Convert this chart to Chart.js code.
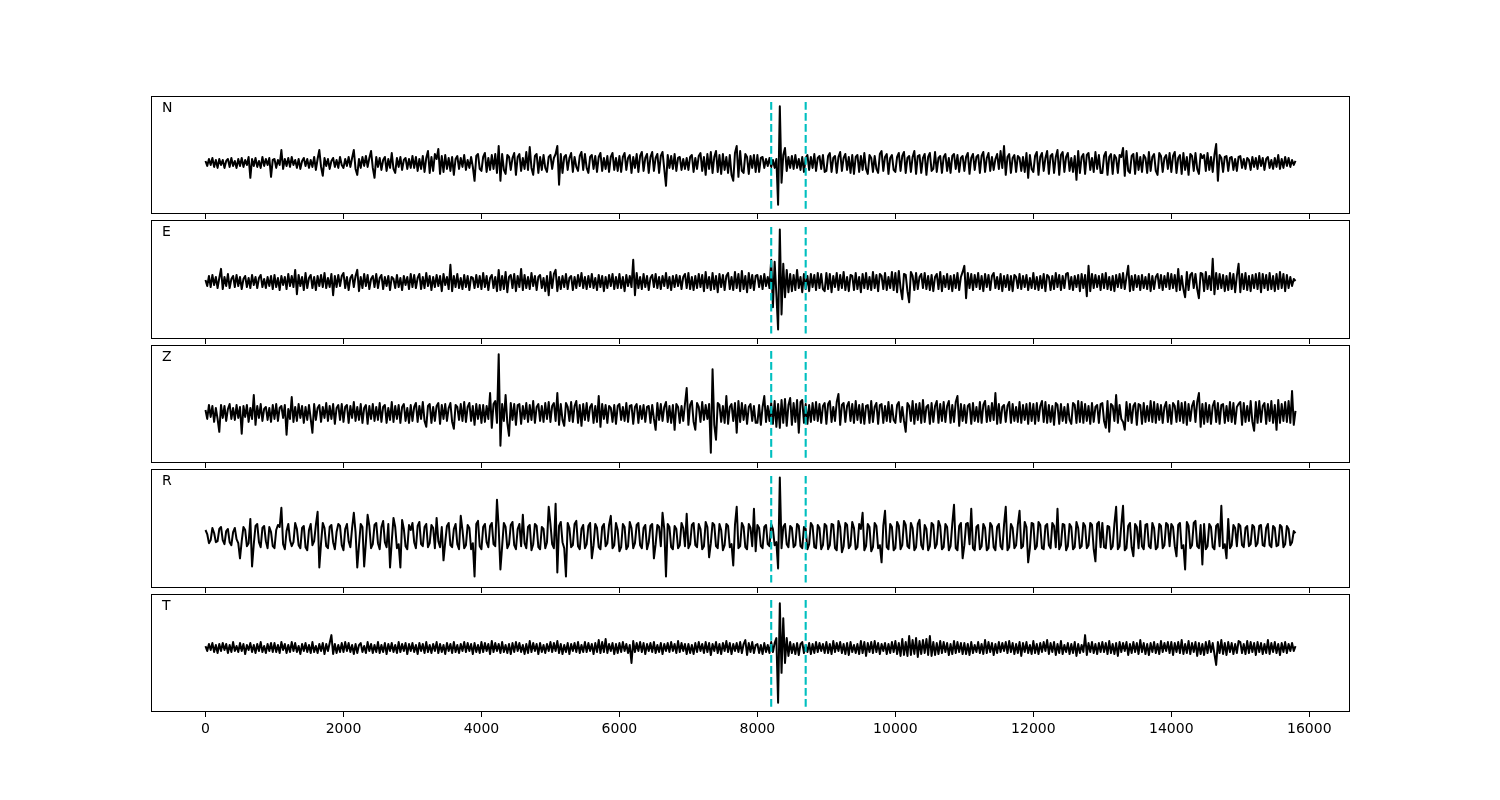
<!DOCTYPE html>
<html>
<head>
<meta charset="utf-8">
<script src="https://cdn.jsdelivr.net/npm/chart.js@4/dist/chart.umd.min.js"></script>
<style>
  body { margin: 0; background: #fff; }
  #wrap { position: relative; width: 1500px; height: 800px; }
  #wrap canvas { position: absolute; left: 0; top: 0; }
</style>
</head>
<body>
<div id="wrap">
  <canvas id="c0" width="1500" height="800"></canvas>
  <canvas id="c1" width="1500" height="800"></canvas>
  <canvas id="c2" width="1500" height="800"></canvas>
  <canvas id="c3" width="1500" height="800"></canvas>
  <canvas id="c4" width="1500" height="800"></canvas>
</div>
<script>
// sample spacing of the traces (x units)
const step = 25;
const xTicks = [0, 2000, 4000, 6000, 8000, 10000, 12000, 14000, 16000];
const channels = ['N', 'E', 'Z', 'R', 'T'];
const pickTimes = [8200, 8700];

// amplitudes, one row per 1000 samples
const traceN = [
  2,-3,4,-2,5,-4,3,-5,4,-2, 3,-5,2,4,-4,5,-3,2,-5,4, -3,5,-4,3,-2,6,-15,4,-3,5, -4,2,-5,6,-3,4,-2,5,-14,3,
  4,-5,3,-2,13,-6,4,-3,5,-4, 6,-2,3,-5,4,-6,2,5,-3,4, -5,3,-4,6,-7,4,13,-4,-13,5, -3,4,-6,2,5,-4,3,-5,6,-2,
  -5,4,-3,6,-4,5,13,-6,-12,4, -5,6,-3,7,-4,5,12,-5,-15,6, -4,5,-7,3,6,-8,4,-5,10,-6, -10,5,-4,6,-7,3,5,-6,4,-5,
  7,-5,6,-8,4,-6,7,-9,5,12, -10,6,-8,9,4,14,-11,7,-9,8, -6,5,-8,6,-12,4,7,-6,5,-4, 8,-7,3,-5,6,-4,-18,7,9,-6,
  -8,6,10,-9,5,-7,8,-6,9,-10, 17,-18,9,-7,-11,8,6,-7,5,10, -12,6,9,-8,5,-6,11,-7,16,-5, -12,7,9,-10,6,-7,8,-5,-9,6,
  8,-6,5,9,17,-22,9,-10,6,8, -7,5,10,-9,6,-4,-8,7,11,-7, 9,-5,-10,6,8,-6,7,-9,6,10, -8,5,-6,7,-9,6,10,-7,5,-8,
  7,-9,6,10,-7,5,8,-10,6,-5, 9,-9,7,11,-8,5,9,-10,6,11, -8,5,9,-10,7,11,-6,-23,8,-5, 7,-6,9,-8,5,6,-7,4,-6,5,
  -7,6,8,-9,5,-6,7,10,-8,6, -12,9,-6,11,-10,6,12,-9,8,-11, 9,-7,6,-10,8,-12,-18,10,17,-14, 12,-8,-10,9,6,-11,7,-5,8,-9,
  8,-9,5,6,-5,4,-3,5,-4,3, -5,4,-42,57,-20,8,15,-8,6,-5, 7,-6,8,-5,4,-7,6,-9,5,8, -7,6,-5,9,-8,5,7,-6,8,-9,
  -8,7,10,-9,5,7,-10,6,11,-8, 5,9,-7,6,-10,8,-11,6,8,-9, 7,-7,10,-6,-11,8,5,-9,7,-6, -10,9,12,-8,6,9,-11,5,8,-7,
  -9,6,10,-8,7,11,-10,5,7,-9, 6,12,-11,7,8,-10,5,9,-12,6, 10,-8,-6,11,-9,5,7,-10,6,9, -8,5,-10,7,9,-6,8,-9,5,7,
  -8,6,10,-11,5,9,-7,6,8,-10, 7,11,-9,5,10,-8,6,-7,4,9, -6,12,-5,17,-12,6,9,-10,5,8, -9,7,5,-8,6,-9,10,-15,8,-6,
  -9,7,11,-12,6,10,-8,5,12,-11, 7,9,-10,6,13,-12,8,11,-9,6, 10,-8,5,-9,7,-17,12,-10,6,9, -11,8,10,-7,5,-9,11,-6,8,-10,
  -10,7,11,-12,6,9,-11,8,5,-10, 8,6,15,-13,12,-8,-10,7,9,-11, 10,-7,6,-9,8,5,-10,11,-8,6, 9,-8,-12,10,7,-9,5,8,-6,10,
  -9,7,11,-10,5,8,-11,10,-7,6, -12,9,7,-8,10,-6,-11,9,5,8, -8,10,-7,6,-9,8,19,-18,8,5, -9,6,7,-8,5,6,-7,4,-8,6,
  7,-5,4,-6,5,3,-7,6,-4,5, -6,7,-3,5,-7,4,6,-5,3,-6, 5,-4,8,-6,4,-5,6,-3,5,-4, 3,-2,2
];
const traceE = [
  2,-4,6,-5,7,-3,5,-6,4,13, -7,5,-4,8,-6,3,6,-5,7,-4, 5,-7,3,6,-5,4,-6,7,-3,5, -6,4,7,-5,3,-6,5,-4,6,-7,
  7,-5,4,-8,6,-3,5,-7,8,-4, 6,-5,12,-12,7,-4,5,-8,9,-6, 4,7,-6,5,-8,6,-4,7,-5,9, -6,4,-5,8,-13,6,-5,7,-4,6,
  9,-6,5,-8,4,7,-5,6,12,-9, 5,-6,8,-4,7,-7,3,6,-5,8, -6,4,7,-7,5,-4,6,-8,5,3, -6,7,-5,4,-8,6,-3,5,-7,8,
  -5,7,-6,4,8,-7,5,-6,9,-4, 6,-8,5,-5,7,-4,6,-9,8,-3, 5,-7,17,-9,6,-5,8,-6,4,-7, 7,-5,6,-8,5,4,-6,7,-5,6,
  -7,9,-5,6,-8,4,7,-6,5,-9, 12,-8,6,-7,10,-10,5,7,-6,8, -9,6,-5,13,-8,7,-6,5,-7,9, -4,6,-8,5,7,-6,4,-9,6,-13,
  10,-6,8,12,-9,5,-7,6,-5,8, -7,4,6,-8,5,-6,7,-4,9,-6, 5,-7,6,-5,8,-6,4,-8,7,-5, 6,-9,5,-6,7,-4,8,-7,5,-6,
  8,-6,5,-9,7,-4,6,-5,22,-13, 9,-6,5,-7,8,-5,6,-8,4,7, -5,8,-6,5,-7,6,-4,9,-6,5, -8,6,-5,7,-4,6,-7,5,8,-6,
  9,-7,5,-8,6,-6,8,-5,7,-9, 10,-6,5,-8,9,-7,6,-10,8,-5, 7,-8,6,9,-7,5,-8,10,-6,8, -9,11,-7,6,-10,9,-6,7,-8,6,
  7,-5,6,-7,8,-4,5,-6,22,-25, 20,-12,-47,52,-32,18,-15,12,-10,8, -9,7,-8,12,-6,5,-10,8,-7,6, -9,8,-5,7,-8,9,-6,8,-7,-9,
  9,-7,8,-10,6,-5,9,-8,7,-6, 10,-8,5,-9,7,6,-8,9,-7,5, -10,8,-6,9,-7,5,-8,10,-6,7, -9,8,6,-7,9,-8,5,-6,10,-8,
  9,-10,11,-6,-17,8,7,-9,-20,10, 6,-8,9,-7,5,8,-6,9,-7,6, -8,7,-9,5,8,-7,10,-9,6,-5, 8,-7,6,-9,7,-6,9,-8,5,10,
  16,-16,9,-6,8,-8,7,-5,9,-7, 6,-9,8,-5,7,-8,6,9,-6,5, -7,8,-9,6,-5,7,-8,6,-9,7, 5,-6,8,-7,6,-5,7,-8,4,-6,
  9,-7,5,-8,6,-6,8,-9,7,5, -8,6,-7,9,-5,7,-8,6,-6,8, 9,-7,5,-8,6,-5,7,-9,8,-6, 7,-14,16,-9,8,-6,7,-5,6,-8,
  8,-6,9,-7,5,-8,6,-9,7,-5, 8,-6,9,-7,5,16,-9,6,-8,7, -5,6,-8,7,-6,5,-7,8,-9,6, -7,5,8,-6,7,-8,6,-5,9,-7,
  8,-6,7,-9,13,-8,6,-7,-15,10, -8,7,9,-6,8,-7,-16,9,8,-9, 10,-7,6,-8,23,-12,9,-7,8,-6, 7,-9,6,-8,9,-7,8,-10,6,18,
  -10,8,-7,9,-8,6,-9,7,-6,8, -7,9,-10,8,-6,7,-8,9,-7,6, -9,8,-7,10,-6,8,-9,7,-6,5, -4,3,1
];
const traceZ = [
  3,-6,8,-4,7,-9,5,-6,-19,8, -5,7,-8,4,9,-6,5,-7,8,-5, 6,-21,7,-4,8,-9,5,-6,18,-12, 7,-5,9,-8,4,6,-7,5,-9,8,
  -6,9,-8,5,7,-5,8,-22,4,-6, 16,-9,6,-8,9,-5,7,-10,6,-7, 8,-6,-20,9,-7,5,8,-9,6,-5, 10,-8,7,-6,9,-11,5,8,-7,9,
  -9,6,8,-10,7,-5,11,-8,6,-7, 9,-10,5,8,-11,7,-6,9,-8,6, -7,10,-9,6,8,-10,5,-7,11,-9, 7,-6,8,-10,6,9,-8,5,-10,8,
  -8,6,10,-9,7,-6,11,-8,-14,7, 9,-10,6,-8,7,10,-11,8,-6,9, -8,5,10,-9,-16,8,6,-7,9,-8, 11,-9,6,10,-8,7,-12,9,-6,8,
  -10,8,-9,7,-6,20,-15,9,12,-10, 59,-33,9,-8,18,-10,-23,10,-7,9, -12,8,9,-11,7,-6,10,-9,8,-7, 12,-10,6,9,-8,7,-9,10,-6,11,
  -9,7,10,-8,20,-12,9,-7,-13,10, 6,-8,11,-9,7,12,-10,8,-13,9, -7,10,-8,6,9,-10,7,-9,17,-14, 9,-6,8,-10,7,5,-9,8,-11,7,
  9,-7,6,-8,10,-9,7,8,-11,6, 9,-10,7,-6,8,-9,6,7,-10,8, -6,-17,10,-7,9,-8,6,11,-9,7, -10,8,-17,9,6,-10,7,-8,9,25,
  -12,8,12,-9,-17,10,6,-9,11,-7, 8,-6,9,-40,44,-12,-27,10,8,-9, 7,-10,17,-11,6,9,-8,10,-20,12, -9,10,-7,8,-11,6,9,-8,7,-10,
  -10,8,-12,6,17,-9,7,-8,10,-11, 12,-14,9,-15,13,-10,14,-13,8,15, -12,10,-9,13,-20,11,13,-10,9,-11, 8,-9,10,-7,11,-8,9,-10,7,10,
  -11,9,12,-9,6,-8,11,19,-12,8, 10,-9,7,11,-8,9,-10,12,-7,8, -10,9,-11,7,8,-10,12,-9,6,10, -11,8,9,-10,7,-8,11,-9,8,-7,
  -10,8,11,-9,6,-8,-19,10,7,-8, 12,-11,9,-7,10,-10,13,-9,6,8, -11,10,-9,7,12,-10,9,-8,11,-9, 7,12,-10,8,-9,11,17,-13,9,-8,
  8,-10,7,9,-11,10,-8,6,-9,11, -10,8,12,-9,7,-8,10,-7,20,-11, 9,-10,6,8,-9,7,11,-10,9,-8, 6,-9,11,-10,8,-7,9,-11,10,-8,
  9,-11,10,-8,7,12,-9,11,-10,8, -9,7,-12,10,8,-11,9,-8,6,-10, 9,-7,-11,10,8,-10,12,-9,11,-10, 9,-8,7,-11,10,-9,6,8,-10,9,
  10,-8,-15,12,-19,9,7,-8,18,-10, 8,-6,-9,-17,11,-8,9,-10,7,10, -12,9,8,-11,10,-9,7,-8,12,-9, 11,-10,9,-7,8,-10,6,11,-9,8,
  -11,10,7,-9,12,-8,10,-10,11,-12, 9,-8,7,12,-9,11,20,-14,9,-11, 10,-9,8,-11,7,12,-9,10,-11,8, 9,-10,7,-8,11,-9,10,-11,6,9,
  11,-12,10,-9,7,-8,12,-9,-18,11, -10,12,-9,7,10,-11,9,-8,12,-10, 8,-17,13,-10,9,-8,11,-9,12,-10, 22,-12,2
];
const traceR = [
  6,2,-7,-4,8,3,-6,-5,7,9, -4,-8,5,7,-6,-9,4,8,-3,-7, -22,-5,9,6,-10,-7,17,-30,-8,10, 12,-6,-11,8,10,-5,-12,9,4,-10,
  -12,6,11,9,28,-8,-13,5,12,-4, -10,-6,13,7,-9,-12,8,10,-11,-14, 6,12,-9,-5,11,24,-31,-7,13,8, -10,-12,9,11,-6,-13,4,12,10,-9,
  -14,7,12,-5,-11,8,23,4,-31,-9, 12,9,-30,-6,21,10,-12,-8,11,13, -7,-13,9,15,-6,-11,12,-31,-5,18, 9,-12,-8,-31,16,7,-10,-13,11,6,
  13,-6,-12,10,14,-8,-10,9,12,-11, -7,11,8,-12,18,-5,-11,9,-24,-6, 10,13,-9,-11,7,12,-8,-13,20,6, -12,-9,11,8,-13,-7,-40,12,15,-10,
  -13,9,12,-6,-11,10,13,-8,-10,36, 8,-33,-10,13,9,-12,-8,11,14,-9, -13,7,12,-10,21,-7,-12,9,11,-14, -8,12,10,-11,-13,9,7,-12,-6,29,
  12,-8,-12,32,-36,10,14,-6,-12,-40, 13,8,-11,-9,12,15,-10,-13,7,11, -12,-8,10,13,-22,-9,12,8,-11,-13, 9,12,-10,-7,11,20,-12,-9,13,6,
  -15,-11,12,9,-13,-10,14,8,-12,-7, 11,13,-9,-12,8,11,-13,-6,10,12, -22,-8,11,9,-10,23,7,-40,12,9, -11,-13,10,7,-12,-9,13,8,-10,22,
  -12,-8,11,13,-9,-11,12,7,-13,-10, 14,9,-21,-7,13,11,-10,-12,12,6, -14,-9,12,10,-11,-8,-29,11,29,-12, -10,13,9,-11,-13,12,8,-10,27,-15,
  11,8,-10,-12,9,11,-8,-10,12,7, -9,-6,-32,58,-12,9,12,-8,-11,10, 8,-11,-9,12,10,-10,-12,9,7,-13, -8,13,10,-11,-12,11,8,-13,-9,12,
  10,-13,-9,12,11,-12,-14,15,9,-16, -10,13,11,-12,-9,14,8,-13,-11,12, 7,23,-14,-10,12,9,-15,-11,13,10, -12,-9,-26,10,25,-11,-13,12,9,-14,
  -12,14,10,-13,-9,15,11,-10,-12,13, 8,-14,-11,12,16,-9,-13,11,7,-14, -10,13,11,-12,-8,15,10,-13,-11,12, 9,-14,-10,12,31,-12,-14,10,13,-22,
  -9,12,13,-8,27,-12,-14,9,11,-13, -10,12,8,-14,-12,13,10,-11,-14,9, 12,-10,-13,11,29,-14,-11,12,8,-12, -9,11,25,-12,-10,14,9,-26,-12,13,
  12,-13,-10,14,11,-12,-13,10,12,-9, -12,13,10,-11,27,-13,-9,12,11,-14, -10,12,9,-13,-11,14,8,-12,-10,13, 10,-12,-9,13,11,-13,-25,12,14,-11,
  13,-11,-12,10,9,-13,-10,12,29,-13, -10,11,30,-14,-12,10,13,-11,-20,12, 9,-12,15,-10,-13,11,12,-10,-12,13, 8,-13,-11,12,10,-12,-9,13,11,-10,
  12,9,-10,-20,11,13,-12,-9,-33,14, 10,-12,-9,13,15,-10,-12,11,-28,12, -13,-10,12,9,-11,-13,10,12,-10,30, -12,-8,-22,17,-12,-9,11,8,-10,12,
  10,-9,-11,8,10,-10,-8,11,9,-10, -7,10,11,-9,-10,8,12,-9,-11,10, 8,-10,-9,11,9,-11,-8,10,7,-9, -6,5,3
];
const traceT = [
  2,-3,4,-2,5,-4,3,-5,4,-3, 5,-2,4,-5,3,-4,6,-3,2,-4, 5,-3,4,-6,3,-2,5,-4,3,-5, 4,-3,6,-4,2,-5,4,-3,5,-4,
  5,-4,3,-5,6,-2,4,-5,3,-4, 6,-3,5,-4,2,-6,4,-3,5,-4, 3,-5,6,-4,2,-5,4,-3,5,-6, 4,-3,5,13,-6,4,-5,3,-4,5,
  -4,6,-3,5,-4,3,-6,4,-5,3, 5,-4,2,-5,6,-3,4,-5,3,-4, 6,-5,3,-4,5,-6,4,-3,5,-4, 3,-5,6,-4,4,-3,5,-6,4,-3,
  5,-4,3,-6,5,-3,4,-5,6,-4, 3,-5,4,-3,6,-5,4,-4,3,-6, 5,-3,4,-5,6,-4,3,-5,4,-3, 6,-4,5,-3,4,-6,5,-4,3,-5,
  6,-4,5,-3,4,-6,7,-4,5,-3, 4,-5,6,-4,3,-5,4,-6,5,-4, 6,-3,5,-4,3,-6,4,-5,7,-4, 5,-3,4,-6,5,-4,3,-5,4,-3,
  6,-4,5,-3,7,-5,4,-6,3,-4, 5,-6,4,-3,5,-4,6,-5,3,-4, 6,-4,5,-3,4,-6,5,-4,8,-5, 6,-4,9,-5,4,-3,5,-6,4,-5,
  5,-4,6,-3,4,-5,3,-15,7,-4, 5,-3,6,-4,5,-6,4,-3,5,-4, 6,-5,3,-4,5,-6,4,-3,5,-4, 6,-3,4,-5,7,-4,5,-3,4,-6,
  4,-5,3,-6,5,-4,6,-3,4,-5, 6,-4,5,-7,4,-3,6,-5,4,-6, 5,-3,7,-4,5,-6,4,-3,5,-4, 6,-5,4,8,-7,5,-4,6,-5,3,
  4,-5,3,-6,5,-4,3,-5,6,-4, 5,10,-55,45,-25,30,-15,10,-8,6, -5,4,-6,5,-7,4,6,-5,3,-4, 5,-6,4,-5,6,-4,5,-3,4,-5,
  6,-5,4,-6,7,-4,5,-3,6,-5, 4,-6,5,-7,6,-4,3,-5,4,-6, 7,-5,6,-8,5,-4,6,-5,7,-4, 5,-6,4,-3,5,-6,4,-5,6,-4,
  7,-6,5,-8,9,-7,6,-8,12,-7, 8,-6,10,-9,7,-6,8,-5,9,-7, 12,-8,6,-7,5,-6,7,-5,6,-4, 5,-7,4,-6,7,-5,6,-4,5,-6,
  5,-6,4,-7,6,-5,3,-4,6,-5, 4,-6,8,-5,6,-4,5,-7,4,-5, 6,-4,5,-3,6,-5,7,-4,5,-6, 4,-5,6,-8,5,-4,6,-5,3,-6,
  7,-5,4,-6,5,-4,6,-3,8,-6, 5,-4,6,-7,4,-5,7,-6,3,-4, 5,-6,4,-5,6,-8,4,-5,3,-4, 13,-7,5,-4,6,-5,4,-6,5,-4,
  6,-4,5,-6,7,-5,4,-6,5,-8, 6,-4,5,-3,6,-7,4,-5,6,-4, 5,-6,8,-4,5,-6,4,-7,5,-4, 6,-5,4,-6,7,-4,5,-3,6,-5,
  6,-7,5,-4,6,-5,8,-6,4,-5, 7,-6,5,-4,6,-8,5,-6,4,-7, 6,-5,7,-4,5,-6,-17,6,-5,8, -6,5,-7,6,-4,5,-6,4,-5,7,
  6,-5,4,-6,7,-5,6,-4,5,-7, 6,-4,5,-6,4,-5,8,-6,5,-4, 6,-5,4,-7,5,-4,6,-5,4,-3, 5,-3,2
];
const traces = [traceN, traceE, traceZ, traceR, traceT];

// extent of the dashed pick lines in each panel
const pickLow = [-46, -51, -45, -46, -59];
const pickHigh = [62, 56, 63, 61, 49];

// panel boxes in page pixels
const panelTop = [96, 220, 345, 469, 594];
const panelBottom = [214, 339, 463, 588, 712];

const boxAndLabel = {
    id: 'boxAndLabel',
    afterDraw(chart, args, opts) {
        const { ctx, chartArea: a } = chart;
        ctx.save();
        ctx.strokeStyle = '#000';
        ctx.lineWidth = 1;
        ctx.strokeRect(Math.round(a.left) + 0.5, Math.round(a.top) + 0.5,
            Math.round(a.right - a.left) - 1, Math.round(a.bottom - a.top) - 1);
        ctx.fillStyle = '#000';
        ctx.font = '14px "DejaVu Sans"';
        ctx.textBaseline = 'middle';
        ctx.fillText(opts.text, a.left + 11, a.top + 12);
        ctx.restore();
    }
};

channels.forEach((name, k) => {
    const last = k === channels.length - 1;
    const axisH = last ? 30 : 5;
    const lo = pickLow[k], hi = pickHigh[k];
    const pad = (hi - lo) * 0.05;

    const pickSets = pickTimes.map(t => ({
        data: [{ x: t, y: lo }, { x: t, y: hi }],
        borderColor: '#00bfbf',
        borderWidth: 2.1,
        borderDash: [7.7, 3.3],
        pointRadius: 0,
        order: 0,
    }));

    new Chart(document.getElementById('c' + k), {
        type: 'line',
        data: {
            datasets: [
                ...pickSets,
                {
                    data: traces[k].map((v, i) => ({ x: i * step, y: v })),
                    borderColor: '#000',
                    borderWidth: 2,
                    borderJoinStyle: 'round',
                    pointRadius: 0,
                    tension: 0,
                    order: 1,
                },
            ],
        },
        options: {
            responsive: false,
            animation: false,
            devicePixelRatio: 1,
            layout: {
                padding: { left: 151, right: 150, top: panelTop[k], bottom: 800 - panelBottom[k] - axisH },
            },
            plugins: {
                legend: { display: false },
                tooltip: { enabled: false },
                boxAndLabel: { text: name },
            },
            scales: {
                x: {
                    type: 'linear',
                    min: -790,
                    max: 16590,
                    afterBuildTicks: s => { s.ticks = xTicks.map(v => ({ value: v })); },
                    afterFit: s => { s.height = axisH; },
                    border: { display: false },
                    grid: {
                        drawOnChartArea: false,
                        drawTicks: true,
                        tickLength: 5,
                        color: '#000',
                        lineWidth: 1,
                    },
                    ticks: {
                        display: last,
                        color: '#000',
                        padding: 4,
                        maxRotation: 0,
                        font: { family: 'DejaVu Sans', size: 14 },
                        callback: v => String(v),
                    },
                },
                y: {
                    display: false,
                    min: lo - pad,
                    max: hi + pad,
                },
            },
        },
        plugins: [boxAndLabel],
    });
});
</script>
</body>
</html>
